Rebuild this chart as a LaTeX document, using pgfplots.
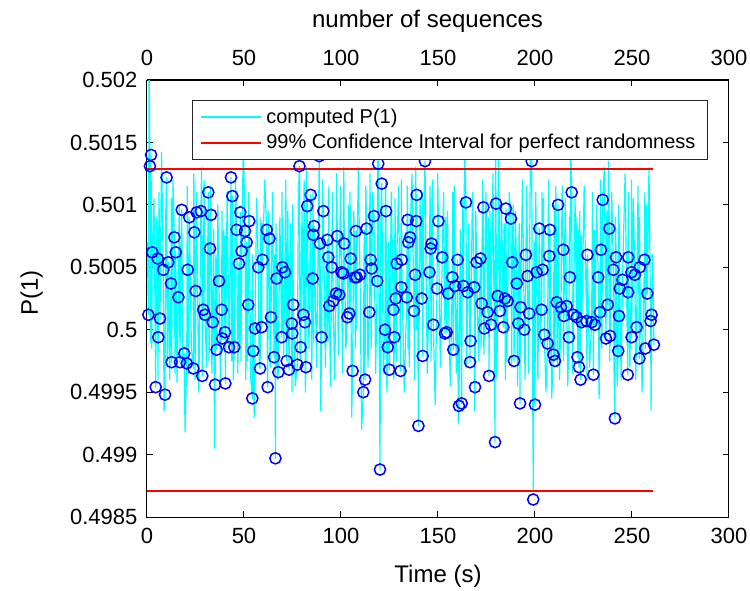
\documentclass[border=0pt]{standalone}
\usepackage{fontspec}
\setmainfont{Liberation Sans}
\usepackage{pgfplots}
\pgfplotsset{compat=1.18}
\definecolor{mcyan}{RGB}{0,255,255}
\definecolor{mblue}{RGB}{0,0,255}
\definecolor{mred}{RGB}{255,0,0}
\begin{document}
\begin{tikzpicture}
\useasboundingbox (-73.5pt,-36.5pt) rectangle (301.5pt,258.5pt);
\begin{axis}[
  at={(0pt,0pt)}, anchor=south west,
  width=291pt, height=218.5pt, scale only axis,
  xmin=0, xmax=300, ymin=0.4985, ymax=0.502,
  xtick={0,50,100,150,200,250,300},
  ytick={0.4985,0.499,0.4995,0.5,0.5005,0.501,0.5015,0.502},
  yticklabels={0.4985,0.499,0.4995,0.5,0.5005,0.501,0.5015,0.502},
  scaled y ticks=false,
  /pgf/number format/assume math mode=true,
  tick pos=both, tick align=inside, major tick length=3pt,
  axis line style={black, line width=0.5pt},
  every tick/.style={black, line width=0.5pt},
  tick label style={font=\fontsize{11}{13}\selectfont},
  xticklabel style={yshift=-1.8pt},
  yticklabel style={xshift=-1.3pt},
  label style={font=\fontsize{12}{14}\selectfont},
  xlabel={Time (s)},
  x label style={at={(axis description cs:0.5,-0.151)}, anchor=base},
  ylabel={P(1)},
  y label style={at={(axis description cs:-0.1873,0.5126)}, anchor=base},
  legend style={at={(0.9639,0.9542)}, anchor=north east, draw=black!85, fill=white,
    line width=0.5pt, font=\fontsize{10}{11.5}\selectfont, cells={anchor=west},
    inner xsep=4pt},
  legend image code/.code={\draw[#1, line width=0.9pt] (0pt,0pt) -- (30pt,0pt);},
]
\addplot[mcyan, line width=0.6pt, line join=round] table {
x y
0.2 0.50070
0.7 0.50012
1.1 0.50210
1.5 0.50131
1.8 0.49990
2.1 0.50140
2.4 0.49985
2.7 0.50062
3.6 0.50105
4.5 0.49954
5.0 0.50090
5.5 0.50057
5.65 0.49960
5.8 0.49994
6.2 0.50110
6.7 0.50009
7.5 0.50142
8.4 0.50048
8.8 0.49935
9.3 0.49948
9.7 0.50095
10.1 0.50122
10.5 0.49975
11.0 0.50054
11.7 0.49960
12.4 0.50037
12.55 0.50105
12.7 0.49974
13.4 0.50120
14.1 0.50074
14.45 0.49965
14.8 0.50062
15.5 0.49958
16.2 0.50026
16.6 0.50100
17.0 0.49974
17.45 0.50060
17.9 0.50096
18.5 0.49970
19.2 0.49981
19.6 0.49918
20.5 0.49973
20.75 0.50115
21.0 0.50048
21.4 0.49965
21.8 0.50090
22.9 0.49985
23.9 0.49969
24.15 0.50125
24.4 0.50078
24.75 0.49960
25.1 0.50031
25.35 0.50110
25.6 0.50094
26.7 0.49950
27.8 0.50095
28.15 0.50130
28.5 0.49963
28.75 0.50075
29.0 0.50016
29.45 0.50120
29.9 0.50012
30.7 0.49970
31.6 0.50110
32.0 0.49975
32.5 0.50065
32.75 0.50115
33.0 0.50092
33.45 0.49965
33.9 0.50006
34.4 0.50080
34.8 0.49905
35.1 0.49956
35.5 0.50060
35.9 0.49984
36.5 0.50100
37.1 0.50039
37.8 0.49960
38.5 0.50016
38.65 0.50095
38.8 0.49993
39.5 0.50080
40.2 0.49998
40.3 0.50075
40.4 0.49957
41.3 0.50110
42.3 0.49986
42.8 0.50050
43.3 0.50122
43.65 0.49975
44.0 0.50107
44.5 0.49960
45.0 0.49986
45.6 0.50120
46.2 0.50080
46.8 0.49965
47.4 0.50053
47.75 0.49990
48.1 0.50094
48.45 0.49975
48.8 0.50063
49.7 0.50150
50.5 0.50079
50.95 0.49960
51.4 0.50070
51.8 0.49975
52.2 0.50020
52.45 0.50110
52.7 0.50087
53.5 0.49960
54.3 0.49945
54.55 0.50060
54.8 0.49983
55.25 0.49930
55.7 0.50001
56.5 0.50105
57.4 0.50050
57.85 0.49970
58.3 0.49969
58.7 0.50090
59.1 0.50002
59.35 0.50085
59.6 0.50056
60.7 0.50120
61.7 0.50080
61.95 0.49990
62.2 0.49954
62.65 0.50095
63.1 0.50073
63.5 0.49970
63.9 0.50010
64.7 0.50110
65.5 0.49978
65.85 0.50060
66.2 0.49897
66.5 0.50085
66.8 0.50041
67.25 0.49960
67.7 0.49966
68.5 0.50090
69.4 0.49994
69.6 0.50110
69.8 0.50050
70.45 0.49980
71.1 0.50046
71.55 0.50120
72.0 0.49975
72.6 0.50095
73.2 0.49968
73.9 0.50085
74.6 0.50005
74.75 0.49950
74.9 0.49997
75.15 0.50100
75.4 0.50020
76.45 0.49955
77.5 0.49972
78.05 0.50110
78.6 0.50131
78.9 0.49975
79.2 0.49986
79.9 0.50095
80.6 0.50012
81.0 0.50120
81.4 0.50006
81.65 0.49950
81.9 0.49970
82.25 0.50130
82.6 0.50099
83.5 0.49985
84.4 0.50108
84.9 0.49960
85.4 0.50041
85.55 0.50110
85.7 0.50076
85.9 0.49990
86.1 0.50083
87.45 0.49970
88.8 0.50139
89.0 0.50000
89.2 0.50069
89.6 0.49935
90.0 0.49994
90.45 0.50120
90.9 0.50095
91.95 0.49970
93.0 0.50072
93.25 0.49990
93.5 0.50058
93.75 0.50115
94.0 0.50019
94.6 0.49955
95.2 0.50050
95.6 0.50110
96.0 0.50023
96.7 0.49960
97.4 0.50029
97.75 0.50125
98.1 0.50075
98.6 0.49980
99.1 0.50028
99.7 0.50115
100.3 0.50046
100.75 0.49965
101.2 0.50045
101.45 0.50130
101.7 0.50069
102.5 0.49985
103.3 0.50010
103.8 0.50100
104.3 0.50013
104.65 0.50110
105.0 0.50057
105.5 0.49930
106.0 0.49967
106.6 0.50095
107.2 0.50042
107.45 0.49985
107.7 0.50079
107.9 0.50000
108.1 0.50042
108.95 0.50130
109.8 0.50044
110.65 0.49920
111.5 0.49950
111.95 0.50080
112.4 0.49960
112.8 0.50115
113.2 0.50081
113.9 0.49970
114.6 0.50014
114.95 0.50125
115.3 0.50056
115.55 0.49985
115.8 0.50049
116.4 0.50110
117.0 0.50091
117.85 0.49965
118.7 0.50039
118.95 0.50145
119.2 0.50133
119.65 0.50010
120.1 0.49888
120.55 0.50090
121.0 0.50117
121.85 0.49965
122.7 0.50000
122.95 0.50120
123.2 0.50095
123.65 0.49950
124.1 0.49986
124.5 0.50070
124.9 0.49968
125.95 0.50110
127.0 0.50016
127.25 0.49960
127.5 0.49994
127.85 0.50105
128.2 0.50025
128.45 0.49975
128.7 0.50053
129.7 0.50115
130.7 0.49967
130.9 0.50085
131.1 0.50034
131.2 0.50120
131.3 0.50056
132.6 0.49950
133.9 0.50026
134.15 0.50115
134.4 0.50088
134.55 0.49985
134.7 0.50070
135.15 0.49970
135.6 0.50074
136.6 0.50125
137.6 0.50015
137.9 0.49960
138.2 0.50044
138.5 0.50130
138.8 0.50087
138.9 0.50000
139.0 0.50108
139.45 0.50050
139.9 0.49923
140.75 0.50105
141.6 0.50025
141.85 0.50110
142.1 0.49979
142.7 0.50090
143.3 0.50135
144.45 0.49965
145.6 0.50046
145.9 0.50115
146.2 0.50065
146.45 0.49975
146.7 0.50069
147.15 0.50120
147.6 0.50004
148.55 0.49940
149.5 0.50033
149.85 0.50125
150.2 0.50087
151.2 0.49970
152.2 0.50058
152.9 0.50110
153.6 0.49997
154.05 0.50090
154.5 0.49998
154.9 0.50095
155.3 0.50029
156.35 0.49955
157.4 0.50042
157.65 0.50110
157.9 0.49984
158.35 0.50115
158.8 0.50035
159.45 0.49965
160.1 0.50056
160.45 0.49925
160.8 0.49939
161.5 0.50080
162.2 0.49941
162.65 0.50105
163.1 0.50035
163.75 0.50145
164.4 0.50102
164.85 0.49970
165.3 0.50030
165.9 0.50085
166.5 0.49974
166.65 0.50040
166.8 0.49991
167.75 0.50110
168.7 0.50034
168.9 0.49935
169.1 0.49954
169.5 0.50095
169.9 0.50054
170.9 0.49975
171.9 0.50057
172.2 0.49985
172.5 0.50021
172.95 0.50120
173.4 0.50098
173.65 0.49980
173.9 0.50001
174.75 0.50110
175.6 0.50014
175.95 0.50090
176.3 0.49963
176.8 0.50095
177.3 0.50004
178.35 0.50125
179.4 0.49910
179.65 0.50150
179.9 0.50101
180.35 0.49960
180.8 0.50027
181.35 0.50140
181.9 0.50015
182.8 0.50100
183.7 0.50002
184.1 0.50085
184.5 0.50025
184.75 0.49960
185.0 0.50097
185.45 0.49975
185.9 0.50023
186.75 0.50110
187.6 0.50089
187.95 0.49970
188.3 0.50054
188.75 0.50100
189.2 0.49975
189.9 0.50095
190.6 0.50037
191.0 0.49955
191.4 0.50005
191.85 0.50085
192.3 0.49941
192.45 0.50060
192.6 0.50018
193.55 0.50120
194.5 0.50000
194.9 0.49960
195.3 0.50060
195.75 0.50115
196.2 0.50043
196.6 0.49965
197.0 0.50013
197.65 0.50145
198.3 0.50135
198.7 0.49985
199.1 0.49872
199.55 0.50070
200.0 0.49940
200.4 0.50110
200.8 0.50046
201.5 0.49960
202.2 0.50081
202.8 0.49990
203.4 0.50016
203.65 0.50110
203.9 0.50048
204.35 0.50105
204.8 0.49996
205.65 0.49950
206.5 0.49989
206.95 0.50120
207.4 0.50059
207.55 0.49980
207.7 0.50080
208.6 0.49945
209.5 0.49980
209.9 0.50100
210.3 0.49975
210.75 0.50115
211.2 0.50022
211.55 0.49970
211.9 0.50100
212.65 0.49960
213.4 0.50018
214.0 0.50115
214.6 0.50064
214.75 0.49975
214.9 0.50011
215.6 0.50105
216.3 0.50019
216.9 0.49955
217.5 0.49994
217.75 0.50090
218.0 0.50042
218.45 0.50150
218.9 0.50110
219.35 0.49965
219.8 0.50012
220.65 0.50105
221.5 0.50010
221.7 0.50090
221.9 0.49978
222.3 0.50080
222.7 0.49970
223.1 0.50095
223.5 0.49960
223.8 0.50075
224.1 0.50006
225.35 0.50115
226.6 0.50007
226.8 0.49960
227.0 0.50060
228.1 0.49970
229.2 0.50006
229.65 0.50110
230.1 0.49964
230.5 0.50080
230.9 0.50004
231.75 0.50100
232.6 0.50042
233.05 0.49945
233.5 0.50014
233.75 0.50120
234.0 0.50064
234.45 0.49985
234.9 0.50104
235.75 0.50130
236.6 0.49993
237.05 0.50095
237.5 0.50020
237.9 0.50135
238.3 0.50081
238.5 0.49975
238.7 0.49995
239.55 0.50110
240.4 0.50048
240.8 0.49960
241.2 0.49929
241.5 0.50090
241.8 0.50058
242.35 0.49955
242.9 0.49983
243.1 0.50100
243.3 0.50011
243.5 0.50085
243.7 0.50033
244.4 0.49960
245.1 0.50040
246.45 0.50125
247.8 0.49964
247.9 0.50070
248.0 0.50030
248.05 0.50110
248.1 0.50058
248.9 0.49970
249.7 0.50046
249.75 0.50120
249.8 0.49994
250.65 0.50105
251.5 0.50044
251.95 0.49960
252.4 0.50002
253.1 0.50115
253.8 0.49977
253.9 0.50090
254.0 0.50050
255.2 0.49950
256.4 0.50056
256.65 0.50110
256.9 0.49985
257.4 0.50100
257.9 0.50029
258.75 0.50130
259.6 0.50007
259.85 0.49935
260.1 0.50012
260.7 0.50060
261.3 0.49988
};
\addlegendentry{computed P(1)}
\addplot[mred, line width=0.9pt] coordinates {(0,0.50129) (261,0.50129)};
\addlegendentry{99\% Confidence Interval for perfect randomness}
\addplot[mred, line width=0.9pt, forget plot] coordinates {(0,0.49871) (261,0.49871)};
\addplot[only marks, mark=o, mark size=2.8pt, mblue, line width=0.75pt, forget plot] table {
x y
0.7 0.50012
1.5 0.50131
2.1 0.50140
2.7 0.50062
4.5 0.49954
5.5 0.50057
5.8 0.49994
6.7 0.50009
8.4 0.50048
9.3 0.49948
10.1 0.50122
11.0 0.50054
12.4 0.50037
12.7 0.49974
14.1 0.50074
14.8 0.50062
16.2 0.50026
17.0 0.49974
17.9 0.50096
19.2 0.49981
20.5 0.49973
21.0 0.50048
21.8 0.50090
23.9 0.49969
24.4 0.50078
25.1 0.50031
25.6 0.50094
27.8 0.50095
28.5 0.49963
29.0 0.50016
29.9 0.50012
31.6 0.50110
32.5 0.50065
33.0 0.50092
33.9 0.50006
35.1 0.49956
35.9 0.49984
37.1 0.50039
38.5 0.50016
38.8 0.49993
40.2 0.49998
40.4 0.49957
42.3 0.49986
43.3 0.50122
44.0 0.50107
45.0 0.49986
46.2 0.50080
47.4 0.50053
48.1 0.50094
48.8 0.50063
50.5 0.50079
51.4 0.50070
52.2 0.50020
52.7 0.50087
54.3 0.49945
54.8 0.49983
55.7 0.50001
57.4 0.50050
58.3 0.49969
59.1 0.50002
59.6 0.50056
61.7 0.50080
62.2 0.49954
63.1 0.50073
63.9 0.50010
65.5 0.49978
66.2 0.49897
66.8 0.50041
67.7 0.49966
69.4 0.49994
69.8 0.50050
71.1 0.50046
72.0 0.49975
73.2 0.49968
74.6 0.50005
74.9 0.49997
75.4 0.50020
77.5 0.49972
78.6 0.50131
79.2 0.49986
80.6 0.50012
81.4 0.50006
81.9 0.49970
82.6 0.50099
84.4 0.50108
85.4 0.50041
85.7 0.50076
86.1 0.50083
88.8 0.50139
89.2 0.50069
90.0 0.49994
90.9 0.50095
93.0 0.50072
93.5 0.50058
94.0 0.50019
95.2 0.50050
96.0 0.50023
97.4 0.50029
98.1 0.50075
99.1 0.50028
100.3 0.50046
101.2 0.50045
101.7 0.50069
103.3 0.50010
104.3 0.50013
105.0 0.50057
106.0 0.49967
107.2 0.50042
107.7 0.50079
108.1 0.50042
109.8 0.50044
111.5 0.49950
112.4 0.49960
113.2 0.50081
114.6 0.50014
115.3 0.50056
115.8 0.50049
117.0 0.50091
118.7 0.50039
119.2 0.50133
120.1 0.49888
121.0 0.50117
122.7 0.50000
123.2 0.50095
124.1 0.49986
124.9 0.49968
127.0 0.50016
127.5 0.49994
128.2 0.50025
128.7 0.50053
130.7 0.49967
131.1 0.50034
131.3 0.50056
133.9 0.50026
134.4 0.50088
134.7 0.50070
135.6 0.50074
137.6 0.50015
138.2 0.50044
138.8 0.50087
139.0 0.50108
139.9 0.49923
141.6 0.50025
142.1 0.49979
143.3 0.50135
145.6 0.50046
146.2 0.50065
146.7 0.50069
147.6 0.50004
149.5 0.50033
150.2 0.50087
152.2 0.50058
153.6 0.49997
154.5 0.49998
155.3 0.50029
157.4 0.50042
157.9 0.49984
158.8 0.50035
160.1 0.50056
160.8 0.49939
162.2 0.49941
163.1 0.50035
164.4 0.50102
165.3 0.50030
166.5 0.49974
166.8 0.49991
168.7 0.50034
169.1 0.49954
169.9 0.50054
171.9 0.50057
172.5 0.50021
173.4 0.50098
173.9 0.50001
175.6 0.50014
176.3 0.49963
177.3 0.50004
179.4 0.49910
179.9 0.50101
180.8 0.50027
181.9 0.50015
183.7 0.50002
184.5 0.50025
185.0 0.50097
185.9 0.50023
187.6 0.50089
188.3 0.50054
189.2 0.49975
190.6 0.50037
191.4 0.50005
192.3 0.49941
192.6 0.50018
194.5 0.50000
195.3 0.50060
196.2 0.50043
197.0 0.50013
198.3 0.50135
199.1 0.49864
200.0 0.49940
200.8 0.50046
202.2 0.50081
203.4 0.50016
203.9 0.50048
204.8 0.49996
206.5 0.49989
207.4 0.50059
207.7 0.50080
209.5 0.49980
210.3 0.49975
211.2 0.50022
211.9 0.50100
213.4 0.50018
214.6 0.50064
214.9 0.50011
216.3 0.50019
217.5 0.49994
218.0 0.50042
218.9 0.50110
219.8 0.50012
221.5 0.50010
221.9 0.49978
222.7 0.49970
223.5 0.49960
224.1 0.50006
226.6 0.50007
227.0 0.50060
229.2 0.50006
230.1 0.49964
230.9 0.50004
232.6 0.50042
233.5 0.50014
234.0 0.50064
234.9 0.50104
236.6 0.49993
237.5 0.50020
238.3 0.50081
238.7 0.49995
240.4 0.50048
241.2 0.49929
241.8 0.50058
242.9 0.49983
243.3 0.50011
243.7 0.50033
245.1 0.50040
247.8 0.49964
248.0 0.50030
248.1 0.50058
249.7 0.50046
249.8 0.49994
251.5 0.50044
252.4 0.50002
253.8 0.49977
254.0 0.50050
256.4 0.50056
256.9 0.49985
257.9 0.50029
259.6 0.50007
260.1 0.50012
261.3 0.49988
};
\end{axis}
\begin{axis}[
  at={(0pt,0pt)}, anchor=south west,
  width=291pt, height=218.5pt, scale only axis,
  xmin=0, xmax=300, ymin=0, ymax=1,
  axis x line*=top, hide y axis,
  xtick={0,50,100,150,200,250,300},
  /pgf/number format/assume math mode=true,
  tick align=inside, major tick length=3pt,
  axis line style={black, line width=0.5pt},
  every tick/.style={black, line width=0.5pt},
  tick label style={font=\fontsize{11}{13}\selectfont},
  xticklabel style={yshift=3.8pt},
  label style={font=\fontsize{12}{14}\selectfont},
  xlabel={number of sequences},
  x label style={at={(axis description cs:0.482,1.119)}, anchor=base},
]
\end{axis}
\end{tikzpicture}
\end{document}
